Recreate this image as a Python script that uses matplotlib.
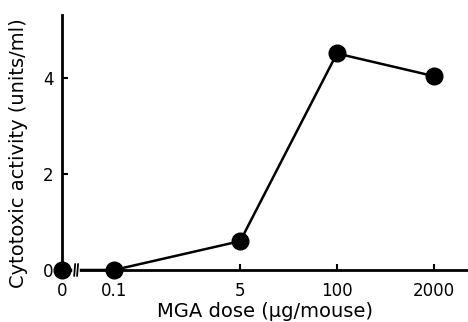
import numpy as np
import matplotlib
matplotlib.use("Agg")
import matplotlib.pyplot as plt

# MGA dose vs cytotoxic activity
dose_labels = ["0", "0.1", "5", "100", "2000"]
dose = [0, 0.1, 5, 100, 2000]
activity = [0.0, 0.0, 0.6, 4.5, 4.03]

# zero dose is drawn left of the axis break on the log axis
zero_pos = 0.02
xpos = [zero_pos if d == 0 else d for d in dose]

plt.rcParams["font.family"] = ["DejaVu Sans"]

fig = plt.figure(figsize=(4.68, 3.22), dpi=100)
ax = fig.add_axes([0.1325, 0.1615, 0.8675, 0.792])

ax.plot(xpos, activity, "k-", lw=1.8, marker="o", ms=12, clip_on=False, zorder=5)

ax.set_xscale("log")
ax.set_xlim(zero_pos, 5800)
ax.set_ylim(0, 5.3)

ax.set_xticks(xpos)
ax.set_xticklabels(dose_labels)
ax.minorticks_off()
ax.set_yticks([0, 2, 4])

ax.tick_params(axis="both", direction="in", length=4, width=1.5, labelsize=12, colors="black")
ax.tick_params(axis="x", pad=9)
ax.tick_params(axis="y", pad=6)

for s in ["top", "right"]:
    ax.spines[s].set_visible(False)
for s in ["left", "bottom"]:
    ax.spines[s].set_linewidth(2)

# axis break marks between 0 and 0.1
bx = 0.031
ax.plot([bx * 0.97, bx * 1.03], [0, 0], color="white", lw=4, clip_on=False, zorder=6)
for f in [0.955, 1.045]:
    ax.plot([bx * f * 0.985, bx * f * 1.015], [-0.12, 0.12], color="black", lw=1.3,
            clip_on=False, zorder=7)

ax.set_xlabel("MGA dose (\u03bcg/mouse)", fontsize=14)
ax.set_ylabel("Cytotoxic activity (units/ml)", fontsize=14)
ax.xaxis.set_label_coords(0.5, -0.125)
ax.yaxis.set_label_coords(-0.084, 0.46)

plt.savefig("out.png", dpi=100)
